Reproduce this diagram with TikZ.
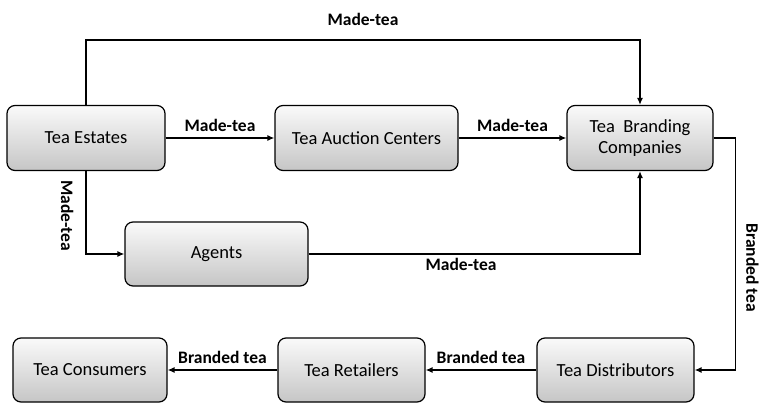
\documentclass[tikz,border=0pt]{standalone}
\usepackage{fontspec}
\setmainfont{Carlito}
\usetikzlibrary{positioning,arrows.meta}
\tikzset{
  stagebox/.style={rectangle, rounded corners=8pt, draw, line width=1.2pt, top color=gray!4, bottom color=gray!45,
                   minimum height=65pt, inner sep=2pt, align=center, font=\fontsize{18.5}{21}\selectfont},
  fwd/.style={-{Latex[length=7pt,width=6pt]}, line width=1.3pt},
  flowlabel/.style={font=\bfseries\fontsize{17.5}{20}\selectfont, inner sep=4pt},
}

\begin{document}
\begin{tikzpicture}[x=1pt, y=-1pt]
  \useasboundingbox (0,0) rectangle (760,404);

  % top row
  \node[stagebox, minimum width=158pt] (estates) at (86,138) {Tea Estates};
  \node[stagebox, minimum width=183pt] (auction) at (366.5,138) {Tea Auction Centers};
  \node[stagebox, minimum width=146pt] (branding) at (640,138) {Tea\ \ Branding\\Companies};
  % middle
  \node[stagebox, minimum width=183pt, minimum height=64pt] (agents) at (216.5,254) {Agents};
  % bottom row
  \node[stagebox, minimum width=157pt, minimum height=64pt] (distributors) at (615.5,370) {Tea Distributors};
  \node[stagebox, minimum width=147pt, minimum height=64pt] (retailers) at (351.5,370) {Tea Retailers};
  \node[stagebox, minimum width=154pt, minimum height=64pt] (consumers) at (90,370) {Tea Consumers};

  \draw[fwd] (estates.north) -- ++(0,-65) -| node[flowlabel, pos=0.25, above=10pt] {Made-tea} (branding.north);
  \draw[fwd] (estates.east) -- node[flowlabel, above=2pt] {Made-tea} (auction.west);
  \draw[fwd] (auction.east) -- node[flowlabel, above=2pt] {Made-tea} (branding.west);
  \draw[fwd] (estates.south) |- node[flowlabel, pos=0.27, rotate=-90, anchor=north, inner sep=12pt] {Made-tea} (agents.west);
  \draw[fwd] (agents.east) -| node[flowlabel, pos=0.23, below] {Made-tea} (branding.south);
  \draw[fwd] (branding.east) -- ++(22,0) |- node[flowlabel, pos=0.28, rotate=-90, anchor=south, inner sep=10pt] {Branded tea} (distributors.east);
  \draw[fwd] (distributors.west) -- node[flowlabel, above=2pt] {Branded tea} (retailers.east);
  \draw[fwd] (retailers.west) -- node[flowlabel, above=2pt] {Branded tea} (consumers.east);
\end{tikzpicture}
\end{document}
